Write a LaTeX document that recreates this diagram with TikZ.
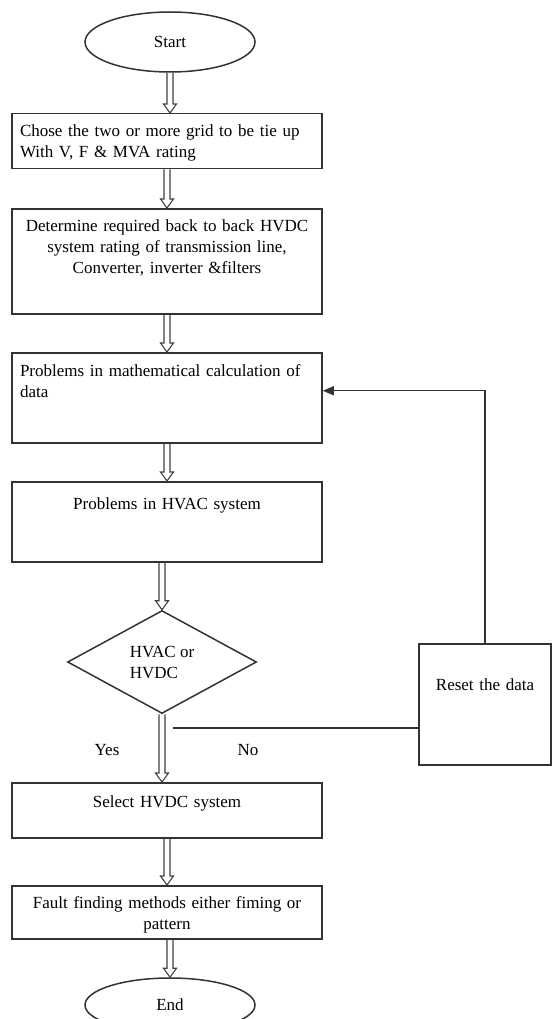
\documentclass[tikz,border=0pt]{standalone}
\usepackage{fontspec}
\setmainfont{Liberation Serif}
\usetikzlibrary{arrows.meta, calc, shapes.geometric}

\begin{document}
\begin{tikzpicture}[
    x=1pt,
    y=-1pt,
    >=Stealth,
    font=\fontsize{17}{21}\selectfont,
    stepbox/.style={draw=black!80, line width=1.5pt, rectangle,
        inner xsep=8pt, inner ysep=0pt, text width=294pt, anchor=north},
    terminal/.style={draw=black!80, line width=1.5pt, ellipse,
        minimum width=170pt, minimum height=60pt, inner sep=0pt},
    decision/.style={draw=black!80, line width=1.5pt, diamond,
        minimum width=189pt, minimum height=103pt, inner sep=0pt, align=left},
    flow/.style={draw=black!80, line width=1.4pt},
    dblarrow/.style={draw=black!75, line width=1.1pt, line join=miter,
        to path={let \p1=(\tikztostart), \p2=(\tikztotarget) in
            (\x1-3pt,\y1) -- (\x1-3pt,\y2+9pt) -- (\x1-6.5pt,\y2+9pt)
            -- (\x1,\y2) -- (\x1+6.5pt,\y2+9pt) -- (\x1+3pt,\y2+9pt)
            -- (\x1+3pt,\y1)}}
]

\useasboundingbox (0,0) rectangle (552,1019);

% =========================
% Main column
% =========================
\node[terminal] (start) at (170,42) {Start};

\node[stepbox, align=left, text height=23pt, text depth=32pt] (grids) at (167,113)
    {Chose the two or more grid to be tie up\\With V, F \& MVA rating};

\node[stepbox, align=center, text height=23pt, text depth=82pt] (rating) at (167,208)
    {Determine required back to back HVDC\\system rating of transmission line,\\Converter, inverter \&filters};

\node[stepbox, align=left, text height=24pt, text depth=66pt] (mathcalc) at (167,352)
    {Problems in mathematical calculation of\\data};

\node[stepbox, align=center, text height=28pt, text depth=52pt] (hvac) at (167,481)
    {Problems in HVAC system};

\node[decision] (choice) at (162,662) {HVAC or\\HVDC};

\node[stepbox, align=center, text height=25pt, text depth=30pt] (select) at (167,782)
    {Select HVDC system};

\node[stepbox, align=center, text height=23pt, text depth=30pt] (fault) at (167,885)
    {Fault finding methods either fiming or\\pattern};

\node[terminal, minimum height=54pt] (stop) at (170,1005) {End};

% =========================
% Reset branch
% =========================
\node[stepbox, align=center, text width=124pt, inner xsep=4pt,
    text height=47pt, text depth=74pt] (reset) at (485,643) {Reset the data};

\node (yes) at (107,750) {Yes};
\node (no)  at (248,750) {No};

\coordinate (nobranch) at (173,728);

% Hollow arrows down the column
\draw[dblarrow] (start.south) to (grids.north);
\draw[dblarrow] (grids.south) to (rating.north);
\draw[dblarrow] (rating.south) to (mathcalc.north);
\draw[dblarrow] (mathcalc.south) to (hvac.north);
\draw[dblarrow] (choice.north |- hvac.south) to (choice.north);
\draw[dblarrow] (choice.south) to (select.north);
\draw[dblarrow] (select.south) to (fault.north);
\draw[dblarrow] (stop.north |- fault.south) to (stop.north);

% No: back to the calculation step
\draw[flow] (nobranch) -- (nobranch -| reset.west);
\draw[flow, -{Triangle[length=11pt, width=9pt]}]
    (reset.north) |- ([yshift=7pt]mathcalc.east);

\end{tikzpicture}
\end{document}
